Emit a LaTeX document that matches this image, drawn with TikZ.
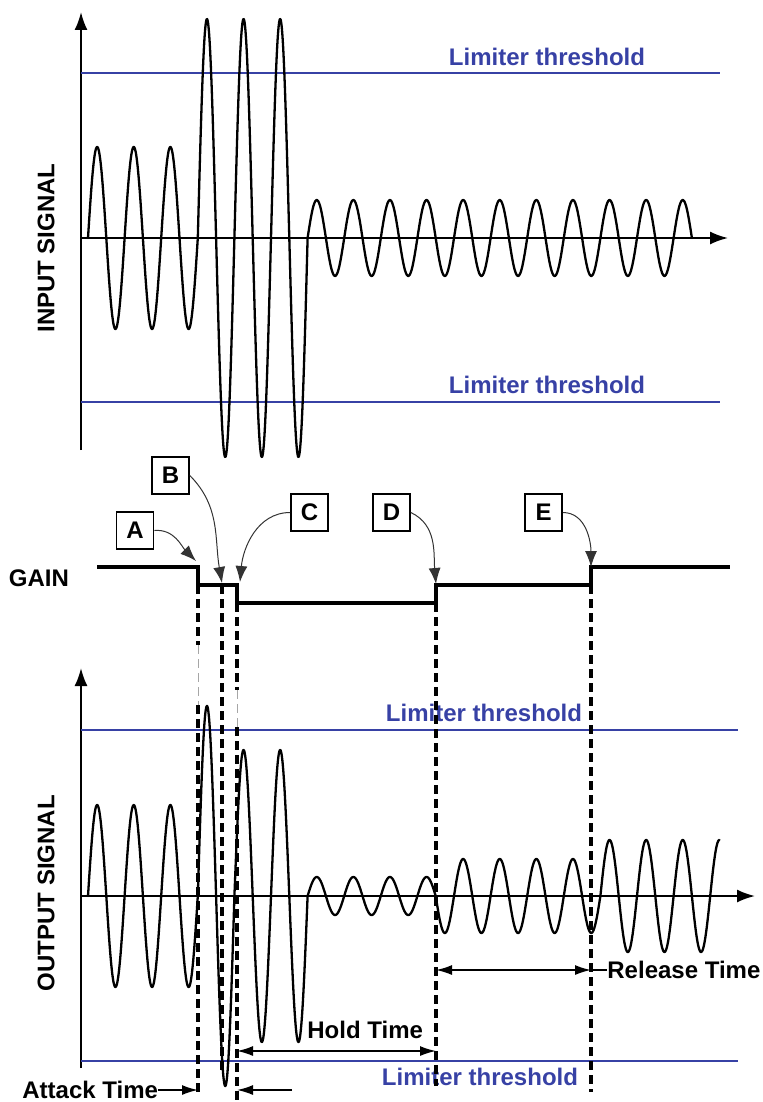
\documentclass[tikz,border=0pt]{standalone}
\usepackage{fontspec}
\setmainfont{Liberation Sans}
\usepackage{tikz}
\usetikzlibrary{arrows.meta, positioning}

\definecolor{limblue}{RGB}{55,65,165}

\tikzset{
  lbl/.style={font=\fontsize{12}{14}\selectfont\bfseries, inner sep=0pt},
  thrlbl/.style={lbl, text=limblue},
  thr/.style={limblue, line width=0.75pt},
  sigaxis/.style={line width=1pt, -{Latex[length=9pt,width=6.5pt]}},
  wave/.style={line width=1.15pt, line cap=round, line join=round},
  gainline/.style={line width=1.8pt},
  letterbox/.style={draw, line width=0.8pt, minimum size=18.5pt, inner sep=0pt,
    font=\fontsize{12}{14}\selectfont\bfseries},
  callout/.style={line width=0.5pt, black!80, -{Latex[length=8pt,width=6pt]}},
  guide/.style={line width=1.6pt, dash pattern=on 4.5pt off 2.5pt},
  faint/.style={line width=0.4pt, black!35, dash pattern=on 4.5pt off 2.5pt},
  timespan/.style={line width=0.8pt, {Latex[length=8pt,width=5pt]}-{Latex[length=8pt,width=5pt]}},
  tarrow/.style={line width=0.8pt, -{Latex[length=8pt,width=5pt]}}
}

\begin{document}
\begin{tikzpicture}[x=0.5pt, y=-0.5pt]
  \useasboundingbox (0,0) rectangle (763,1102);

  %---- INPUT SIGNAL ----
  \coordinate (in0) at (81,238);
  \coordinate (inY) at (81,12);
  \coordinate (inX) at (728,238);
  \draw[sigaxis] (81,450) -- (inY);
  \draw[sigaxis] (in0) -- (inX);

  % limiter lines
  \draw[thr] (81,73) -- (720,73);
  \draw[thr] (81,402) -- (720,402);
  \node[thrlbl] (inthrA) at (547,57) {Limiter threshold};
  \node[thrlbl] (inthrB) at (547,385) {Limiter threshold};

  \node[lbl, rotate=90] (inlbl) at (46,248) {INPUT SIGNAL};

  % wave, period 36.6 (360/36.6 = 9.8361)
  \foreach \a/\b/\amp in {88/197.8/91, 197.8/307.6/219, 307.6/691.9/38}
    \draw[wave] plot[domain=\a:\b, samples=400] (\x, {238-\amp*sin(9.8361*(\x-88))});

  %---- GAIN ----
  \node[lbl] (gainlbl) at (39,578) {GAIN};
  \coordinate (g0) at (97,567);
  \coordinate (a1) at (198,567);
  \coordinate (a2) at (198,585);
  \coordinate (b1) at (222,585);
  \coordinate (c1) at (237,585);
  \coordinate (c2) at (237,603);
  \coordinate (d1) at (436,603);
  \coordinate (d2) at (436,585);
  \coordinate (e1) at (591,585);
  \coordinate (e2) at (591,567);
  \coordinate (g9) at (730,567);
  \draw[gainline] (g0) -- (a1) -- (a2) -- (c1) -- (c2) -- (d1) -- (d2) -- (e1) -- (e2) -- (g9);

  \node[letterbox] (A) at (135,530.5) {A};
  \node[letterbox] (B) at (170.5,475.5) {B};
  \node[letterbox] (C) at (309.5,512.5) {C};
  \node[letterbox] (D) at (391.5,512.5) {D};
  \node[letterbox] (E) at (543.5,512.5) {E};

  \coordinate (tipA) at (196,561);
  \coordinate (tipB) at (222,583);
  \coordinate (tipC) at (240,582);
  \coordinate (tipD) at (436,584);
  \coordinate (tipE) at (591,567);
  \draw[callout] (A.east) to[out=5, in=135] (tipA);
  \draw[callout] (B.east) to[out=-45, in=100] (tipB);
  \draw[callout] (C.west) to[out=180, in=85] (tipC);
  \draw[callout] (D.east) to[out=-25, in=95] (tipD);
  \draw[callout] (E.east) to[out=0, in=90] (tipE);

  %---- OUTPUT SIGNAL ----
  \coordinate (out0) at (81,896);
  \coordinate (outY) at (81,668);
  \coordinate (outX) at (755,896);
  \draw[sigaxis] (81,1068) -- (outY);
  \draw[sigaxis] (out0) -- (outX);

  \draw[thr] (81,730) -- (738,730);
  \draw[thr] (81,1061) -- (738,1061);
  \node[thrlbl] (outthrA) at (484,713) {Limiter threshold};
  \node[thrlbl] (outthrB) at (480,1077) {Limiter threshold};

  \node[lbl, rotate=90] (outlbl) at (46,893) {OUTPUT SIGNAL};

  \foreach \a/\b/\amp in {88/197.8/91, 197.8/234.4/190, 234.4/307.6/146,
                          307.6/435.7/19, 435.7/600.4/37, 600.4/719.4/56}
    \draw[wave] plot[domain=\a:\b, samples=300] (\x, {896-\amp*sin(9.8361*(\x-88))});

  % dashed guides
  \draw[guide] (a2) -- (198,645);
  \draw[faint] (198,645) -- (198,705);
  \draw[guide] (198,705) -- (198,1097);
  \draw[guide] (b1) -- (222,1075);
  \draw[guide] (c2) -- (237,690);
  \draw[faint] (237,690) -- (237,727);
  \draw[guide] (237,727) -- (237,1100);
  \draw[guide] (d1) -- (436,1086);
  \draw[guide] (e1) -- (591,1092);

  % times
  \coordinate (relL) at (436,970);
  \coordinate (relR) at (591,970);
  \draw[timespan] (relL) -- (relR);
  \node[lbl, anchor=west] (rel) at (607,970) {Release Time};
  \draw[line width=0.8pt] (relR) -- (rel.west);

  \coordinate (holdL) at (237,1051);
  \coordinate (holdR) at (436,1051);
  \draw[timespan] (holdL) -- (holdR);
  \node[lbl, anchor=west] (hold) at (307,1030) {Hold Time};

  \coordinate (atkL) at (198,1090);
  \coordinate (atkR) at (237,1090);
  \coordinate (atkR0) at (292,1090);
  \node[lbl, anchor=west] (atk) at (22,1090) {Attack Time};
  \draw[tarrow] (atk.east) -- (atkL);
  \draw[tarrow] (atkR0) -- (atkR);

\end{tikzpicture}
\end{document}
